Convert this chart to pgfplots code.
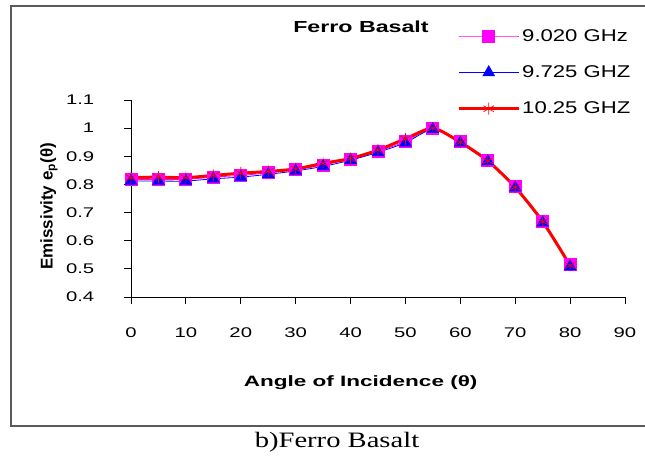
\documentclass[border=0pt]{standalone}
\usepackage{pgfplots}
\pgfplotsset{compat=1.18}
\usepackage{fontspec}
\setmainfont{Liberation Sans}
\newfontfamily\capfont{Liberation Serif}
\definecolor{mag}{RGB}{255,0,255}
\definecolor{frame}{RGB}{90,90,90}
\begin{document}
\begin{tikzpicture}[x=1pt,y=1pt]
\useasboundingbox (0,0) rectangle (645,457);
\draw[frame, line width=1.5pt] (650,451) -- (11,451) -- (11,31) -- (650,31);
\node[font=\fontsize{22}{22}\selectfont\capfont, xscale=1.3] at (337,15) {b)Ferro Basalt};
\node[font=\fontsize{16}{16}\selectfont\bfseries, xscale=1.45] at (361,430) {Ferro Basalt};
\begin{axis}[
  at={(131pt,160pt)}, anchor=south west,
  scale only axis, width=494pt, height=197pt,
  xmin=0, xmax=90, ymin=0.4, ymax=1.1,
  axis x line=bottom, axis y line=left,
  axis line style={-, line width=0.9pt},
  xtick={0,10,...,90}, ytick={0.4,0.5,...,1.1},
  tick align=outside, major tick length=7pt,
  tick style={line width=0.9pt, black},
  /pgf/number format/assume math mode=true,
  yticklabel style={/pgf/number format/fixed, /pgf/number format/precision=1, xshift=-17pt},
  xticklabel style={yshift=-20pt},
  ticklabel style={font=\fontsize{14}{14}\selectfont, xscale=1.45},
  xlabel={Angle of Incidence (θ)},
  xlabel style={font=\fontsize{15}{15}\selectfont\bfseries, xscale=1.5, at={(axis description cs:0.465,-0.437)}, anchor=center},
  ylabel={Emissivity e\textsubscript{p}(θ)},
  ylabel style={font=\fontsize{17}{17}\selectfont\bfseries, at={(axis description cs:-0.166,0.46)}, anchor=center},
  legend style={at={(axis description cs:0.66,1.37)}, anchor=north west, draw=none, fill=none,
    font=\fontsize{17}{17}\selectfont, row sep=19pt, inner sep=0pt},
  legend cell align=left,
  legend image code/.code={\draw[mark repeat=2,mark phase=2] plot coordinates {(0pt,0pt) (30pt,0pt) (60pt,0pt)};},
  clip=false,
]
\addplot[mag, line width=0.8pt, mark=square*, mark size=6pt, mark options={fill=mag, draw=mag}, smooth, tension=0.4] coordinates {
(0,0.818) (5,0.818) (10,0.818) (15,0.826) (20,0.832) (25,0.841) (30,0.852) (35,0.869) (40,0.890) (45,0.918) (50,0.952) (55,1.000) (60,0.953) (65,0.886) (70,0.794) (75,0.670) (80,0.517)};
\addlegendentry{\scalebox{1.3}[1]{9.020 GHz}}
\addplot[blue, line width=0.8pt, mark=triangle*, mark size=6.5pt, mark options={fill=blue, draw=blue}, smooth, tension=0.4] coordinates {
(0,0.812) (5,0.812) (10,0.812) (15,0.820) (20,0.826) (25,0.836) (30,0.848) (35,0.864) (40,0.886) (45,0.914) (50,0.948) (55,0.996) (60,0.948) (65,0.882) (70,0.788) (75,0.664) (80,0.508)};
\addlegendentry{\scalebox{1.3}[1]{9.725 GHZ}}
\addplot[red, line width=3pt, mark=asterisk, mark size=6pt, mark options={line width=0.7pt, draw=red}, smooth, tension=0.4] coordinates {
(0,0.824) (5,0.826) (10,0.824) (15,0.832) (20,0.840) (25,0.846) (30,0.855) (35,0.875) (40,0.892) (45,0.922) (50,0.962) (55,1.000) (60,0.950) (65,0.884) (70,0.790) (75,0.668) (80,0.512)};
\addlegendentry{\scalebox{1.3}[1]{10.25 GHZ}}
\end{axis}
\end{tikzpicture}
\end{document}
